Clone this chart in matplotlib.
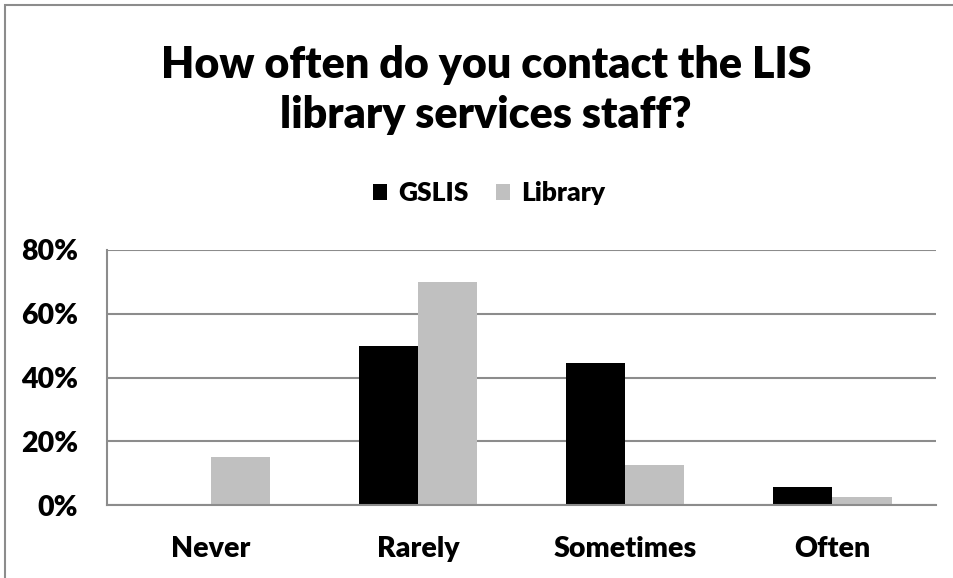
import matplotlib
matplotlib.use("Agg")
import matplotlib.pyplot as plt
from matplotlib.patches import Rectangle
from matplotlib.ticker import PercentFormatter
import numpy as np

categories = ["Never", "Rarely", "Sometimes", "Often"]
gslis = [0.0, 50.0, 44.4, 5.6]
library = [15.0, 70.0, 12.5, 2.5]
yticks = [0, 20, 40, 60, 80]
title = "How often do you contact the LIS\nlibrary services staff?"

plt.rcParams['font.family'] = ['Lato', 'DejaVu Sans']
W, H = 954, 578
fig = plt.figure(figsize=(W / 100, H / 100), dpi=100)

left, right, bottom, top = 107.5, 936, 505, 250
ax = fig.add_axes([left / W, 1 - bottom / H, (right - left) / W, (bottom - top) / H])

x = np.arange(len(categories))
bw = 1 / 3.5
ax.bar(x - bw / 2, gslis, width=bw, color="#000000", label="GSLIS", zorder=3)
ax.bar(x + bw / 2, library, width=bw, color="#c0c0c0", label="Library", zorder=3)

ax.set_xlim(-0.5, len(categories) - 0.5)
ax.set_ylim(0, 80)
ax.set_yticks(yticks)
ax.yaxis.set_major_formatter(PercentFormatter(decimals=0))
ax.set_xticks(x)
ax.set_xticklabels(categories)
ax.tick_params(axis='both', length=0, labelsize=20.5)
ax.tick_params(axis='y', pad=21)
ax.tick_params(axis='x', pad=22)
for lab in ax.get_xticklabels() + ax.get_yticklabels():
    lab.set_fontweight('heavy')

ax.grid(axis='y', color="#8c8c8c", linewidth=1.5, zorder=0)
for s in ['top', 'right']:
    ax.spines[s].set_visible(False)
ax.spines['left'].set_color("#8c8c8c")
ax.spines['left'].set_linewidth(1.5)
ax.spines['bottom'].set_color("#8c8c8c")
ax.spines['bottom'].set_linewidth(1.5)
ax.spines['bottom'].set_zorder(4)

fig.text(486 / W, 1 - 90 / H, title, ha='center', va='center', fontsize=31,
         fontweight='heavy', linespacing=1.32)

fig.legend(loc='center', bbox_to_anchor=(489 / W, 1 - 193 / H), ncol=2, frameon=False,
           prop={'weight': 'heavy', 'size': 19}, handlelength=0.55, handleheight=0.55,
           handletextpad=0.4, columnspacing=1.05)

fig.add_artist(Rectangle((5 / W, -0.1), 1.2, 1 - 5 / H + 0.1, transform=fig.transFigure,
                         fill=False, edgecolor="#8c8c8c", linewidth=1.5))

fig.savefig("out.png", dpi=100)
